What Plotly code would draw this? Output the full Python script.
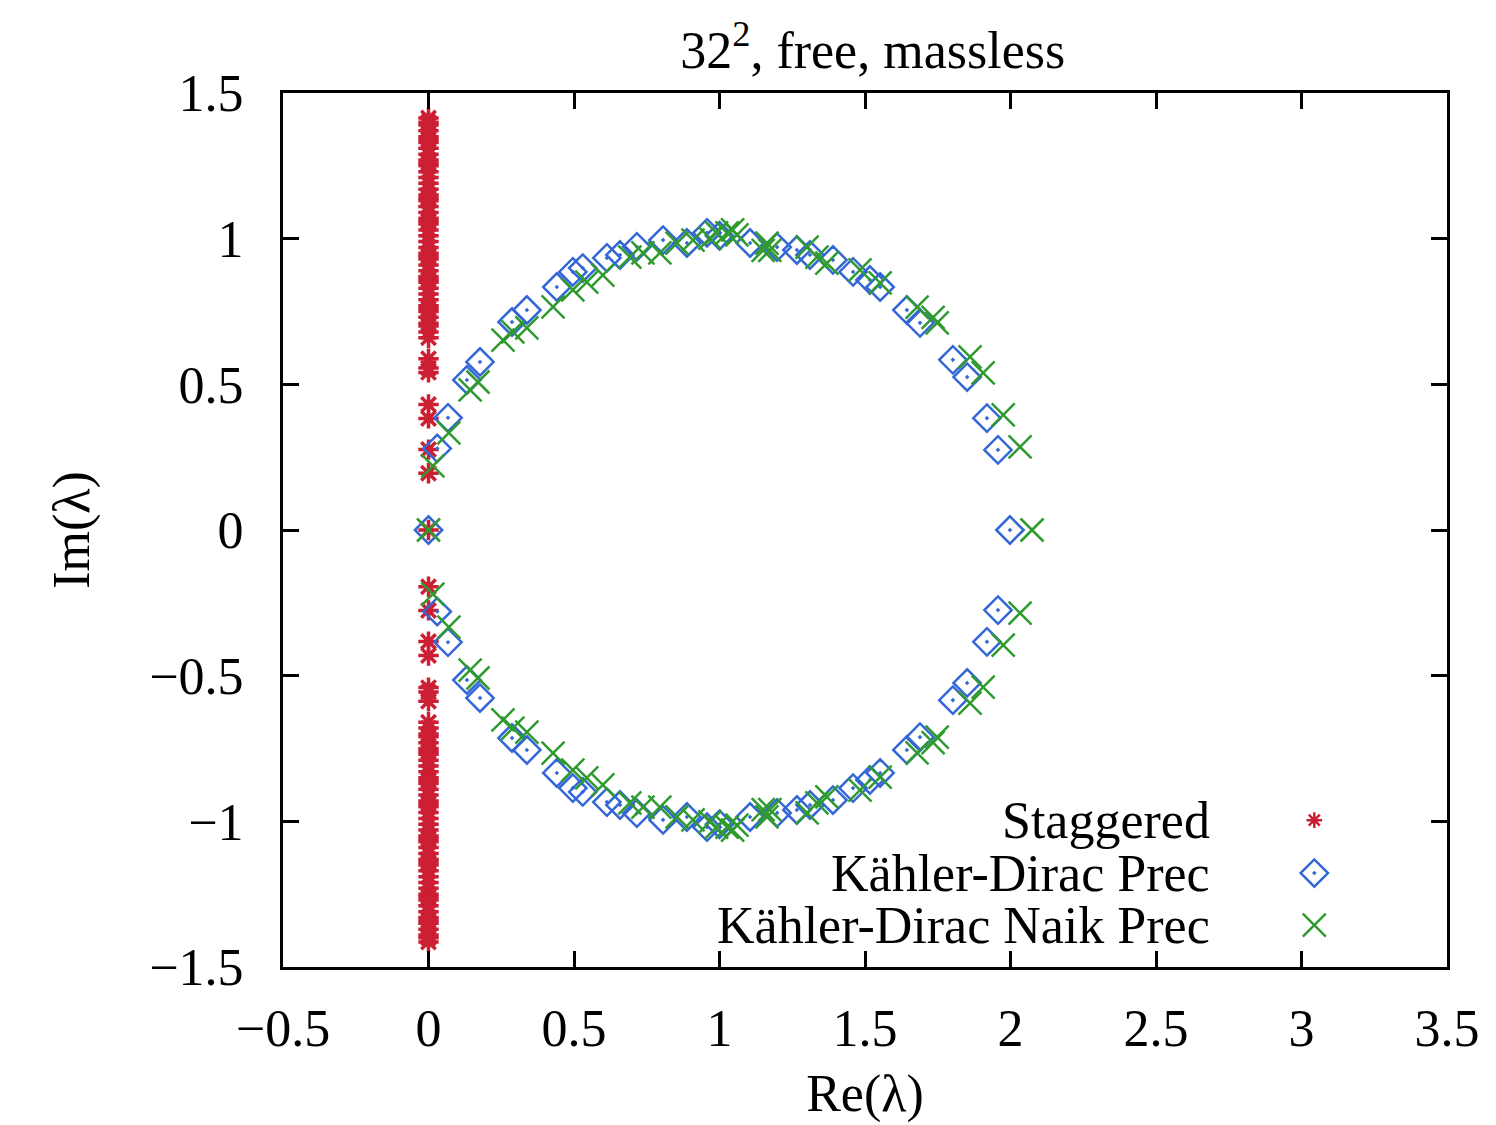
import plotly.graph_objects as go

# ---------------- data ----------------
stag_im = [0.0,
           0.195, 0.276, 0.383, 0.431, 0.541, 0.556, 0.588,
           0.66, 0.68, 0.70, 0.71, 0.73, 0.75, 0.76, 0.77, 0.79, 0.81, 0.83, 0.85,
           0.86, 0.87, 0.89, 0.91, 0.93, 0.94, 0.95, 0.97, 0.99, 1.01, 1.03, 1.05,
           1.06, 1.07, 1.09, 1.11, 1.13, 1.14, 1.15, 1.17, 1.19, 1.21, 1.23, 1.25,
           1.26, 1.27, 1.29, 1.31, 1.33, 1.34, 1.35, 1.37, 1.39, 1.40, 1.414,
           -0.195, -0.276, -0.383, -0.431, -0.541, -0.556, -0.588,
           -0.66, -0.68, -0.70, -0.71, -0.73, -0.75, -0.76, -0.77, -0.79, -0.81, -0.83, -0.85,
           -0.86, -0.87, -0.89, -0.91, -0.93, -0.94, -0.95, -0.97, -0.99, -1.01, -1.03, -1.05,
           -1.06, -1.07, -1.09, -1.11, -1.13, -1.14, -1.15, -1.17, -1.19, -1.21, -1.23, -1.25,
           -1.26, -1.27, -1.29, -1.31, -1.33, -1.34, -1.35, -1.37, -1.39, -1.40, -1.414]
stag_re = [0.0] * len(stag_im)

kd_re = [0.0,
         0.030, 0.067, 0.132, 0.177, 0.287, 0.338, 0.441, 0.496, 0.530, 0.613,
         0.658, 0.716, 0.806, 0.888, 0.957, 1.000, 1.105, 1.198, 1.266, 1.311,
         1.390, 1.459, 1.517, 1.552, 1.644, 1.689, 1.802, 1.851, 1.919, 1.957,
         1.998,
         0.030, 0.067, 0.132, 0.177, 0.287, 0.338, 0.441, 0.496, 0.530, 0.613,
         0.658, 0.716, 0.806, 0.888, 0.957, 1.000, 1.105, 1.198, 1.266, 1.311,
         1.390, 1.459, 1.517, 1.552, 1.644, 1.689, 1.802, 1.851, 1.919, 1.957]
kd_im = [0.0,
         0.280, 0.385, 0.515, 0.577, 0.714, 0.755, 0.834, 0.886, 0.899, 0.934,
         0.944, 0.972, 0.995, 0.985, 1.020, 1.010, 0.985, 0.971, 0.961, 0.944,
         0.927, 0.886, 0.858, 0.834, 0.755, 0.711, 0.584, 0.525, 0.384, 0.275,
         0.0,
         -0.280, -0.385, -0.515, -0.577, -0.714, -0.755, -0.834, -0.886, -0.899, -0.934,
         -0.944, -0.972, -0.995, -0.985, -1.020, -1.010, -0.985, -0.971, -0.961, -0.944,
         -0.927, -0.886, -0.858, -0.834, -0.755, -0.711, -0.584, -0.525, -0.384, -0.275]

naik_re = [0.0,
           0.015, 0.070, 0.143, 0.170, 0.256, 0.290, 0.338, 0.428, 0.496, 0.544,
           0.599, 0.692, 0.737, 0.795, 0.854, 0.909, 0.967, 0.990, 1.026, 1.045,
           1.060, 1.150, 1.163, 1.173, 1.301, 1.335, 1.369, 1.483, 1.552, 1.679,
           1.734, 1.748, 1.861, 1.906, 1.975, 2.033, 2.074,
           0.015, 0.070, 0.143, 0.170, 0.256, 0.290, 0.338, 0.428, 0.496, 0.544,
           0.599, 0.692, 0.737, 0.795, 0.854, 0.909, 0.967, 0.990, 1.026, 1.045,
           1.060, 1.150, 1.163, 1.173, 1.301, 1.335, 1.369, 1.483, 1.552, 1.679,
           1.734, 1.748, 1.861, 1.906, 1.975, 2.033]
naik_im = [0.0,
           0.220, 0.333, 0.481, 0.508, 0.652, 0.680, 0.694, 0.766, 0.824, 0.851,
           0.875, 0.937, 0.951, 0.951, 0.985, 0.995, 1.002, 1.020, 1.020, 1.030,
           1.013, 0.960, 0.985, 0.960, 0.971, 0.937, 0.916, 0.893, 0.848, 0.765,
           0.730, 0.711, 0.594, 0.539, 0.395, 0.285, 0.0,
           -0.220, -0.333, -0.481, -0.508, -0.652, -0.680, -0.694, -0.766, -0.824, -0.851,
           -0.875, -0.937, -0.951, -0.951, -0.985, -0.995, -1.002, -1.020, -1.020, -1.030,
           -1.013, -0.960, -0.985, -0.960, -0.971, -0.937, -0.916, -0.893, -0.848, -0.765,
           -0.730, -0.711, -0.594, -0.539, -0.395, -0.285]

series_names = ["Staggered", "Kähler-Dirac Prec", "Kähler-Dirac Naik Prec"]

x_ticks = [-0.5, 0, 0.5, 1, 1.5, 2, 2.5, 3, 3.5]
x_ticktext = ["\u22120.5", "0", "0.5", "1", "1.5", "2", "2.5", "3", "3.5"]
y_ticks = [-1.5, -1, -0.5, 0, 0.5, 1, 1.5]
y_ticktext = ["\u22121.5", "\u22121", "\u22120.5", "0", "0.5", "1", "1.5"]

# ---------------- styles ----------------
FONT = "Liberation Serif"
FS = 52
RED = "#cc1f33"
BLUE = "#3366d6"
GREEN = "#2f9b2f"

styles = [
    dict(symbol="asterisk-open", size=17, color=RED, line=dict(color=RED, width=3.5)),
    dict(symbol="diamond-open-dot", size=21, color=BLUE, line=dict(color=BLUE, width=2.5)),
    dict(symbol="x-thin-open", size=23, color=GREEN, line=dict(color=GREEN, width=2.5)),
]
key_styles = [
    dict(symbol="asterisk-open", size=13, color=RED, line=dict(color=RED, width=2.5)),
    styles[1],
    styles[2],
]

fig = go.Figure()
fig.add_trace(go.Scatter(x=stag_re, y=stag_im, mode="markers", name=series_names[0],
                         marker=styles[0], showlegend=False))
fig.add_trace(go.Scatter(x=kd_re, y=kd_im, mode="markers", name=series_names[1],
                         marker=styles[1], showlegend=False))
fig.add_trace(go.Scatter(x=naik_re, y=naik_im, mode="markers", name=series_names[2],
                         marker=styles[2], showlegend=False))

# gnuplot-style key: right-aligned text followed by a sample marker
key_rows = [0.168, 0.1075, 0.048]
key_text_x = 0.798
key_mark_x = 0.886
for i, name in enumerate(series_names):
    fig.add_trace(go.Scatter(x=[key_mark_x], y=[key_rows[i]], mode="markers",
                             xaxis="x2", yaxis="y2", marker=key_styles[i],
                             showlegend=False, hoverinfo="skip"))
    fig.add_annotation(x=key_text_x, y=key_rows[i], xref="paper", yref="paper",
                       text=name, showarrow=False, xanchor="right", yanchor="middle",
                       font=dict(family=FONT, size=FS, color="black"))

axis_common = dict(showgrid=False, zeroline=False, showline=True, linecolor="black",
                   linewidth=3, mirror="allticks", ticks="inside", ticklen=16,
                   tickwidth=2.5, tickcolor="black",
                   tickfont=dict(family=FONT, size=FS, color="black"))

fig.update_layout(
    width=1496, height=1125,
    paper_bgcolor="white", plot_bgcolor="white",
    margin=dict(l=275, r=57, t=85, b=166),
    title=dict(text="32<sup>2</sup>, free, massless", x=0.578, xanchor="center",
               y=0.963, yanchor="middle",
               font=dict(family=FONT, size=FS, color="black")),
    xaxis=dict(range=[-0.5, 3.5], tickvals=x_ticks, ticktext=x_ticktext,
               ticklabelstandoff=14,
               title=dict(text="Re(λ)", font=dict(family=FONT, size=FS, color="black"),
                          standoff=19),
               **axis_common),
    yaxis=dict(range=[-1.5, 1.5], tickvals=y_ticks, ticktext=y_ticktext,
               ticklabelstandoff=26,
               title=dict(text="Im(λ)", font=dict(family=FONT, size=FS, color="black"),
                          standoff=44),
               **axis_common),
    xaxis2=dict(overlaying="x", range=[0, 1], visible=False, fixedrange=True),
    yaxis2=dict(overlaying="y", range=[0, 1], visible=False, fixedrange=True),
    font=dict(family=FONT, size=FS, color="black"),
)

fig.write_html("out.html")
